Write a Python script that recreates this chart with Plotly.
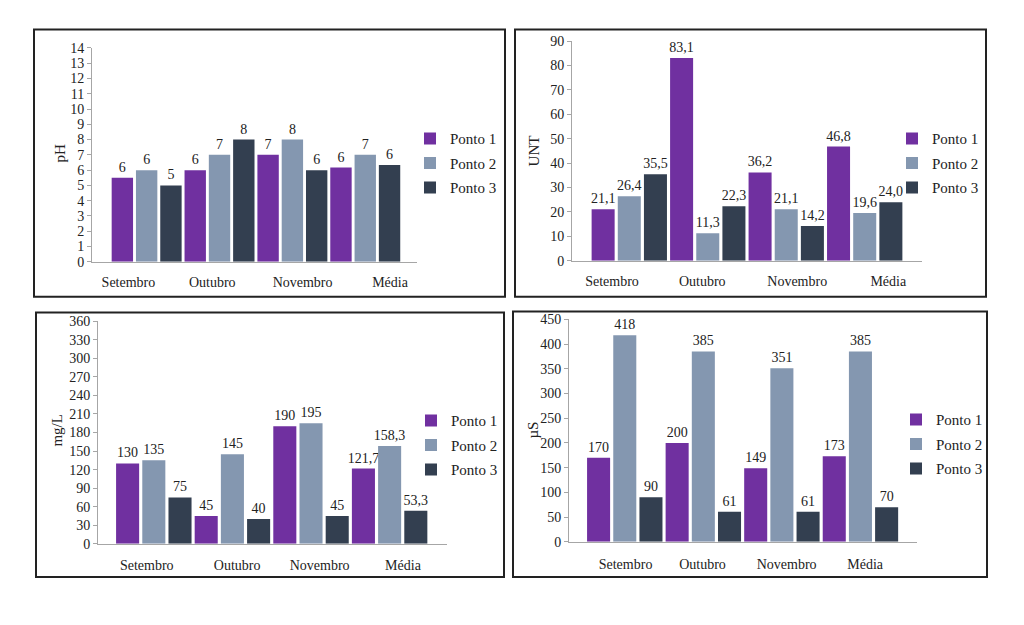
import plotly.graph_objects as go

# ---------------- data ----------------
months = ["Setembro", "Outubro", "Novembro", "Média"]
series = ["Ponto 1", "Ponto 2", "Ponto 3"]
colors = ["#7030A0", "#8497B0", "#333F50"]

ph_p1 = [5.5, 6, 7, 6.17]
ph_p2 = [6, 7, 8, 7]
ph_p3 = [5, 8, 6, 6.33]

unt_p1 = [21.1, 83.1, 36.2, 46.8]
unt_p2 = [26.4, 11.3, 21.1, 19.6]
unt_p3 = [35.5, 22.3, 14.2, 24.0]

mgl_p1 = [130, 45, 190, 121.7]
mgl_p2 = [135, 145, 195, 158.3]
mgl_p3 = [75, 40, 45, 53.3]

us_p1 = [170, 200, 149, 173]
us_p2 = [418, 385, 351, 385]
us_p3 = [90, 61, 61, 70]

# ---------------- helpers ----------------
W, H = 1024, 625
FONT = "Liberation Serif, Times New Roman, DejaVu Serif, serif"


def px(x):
    return x / W


def py(y):
    return 1 - y / H


def fmt(v, mode):
    if mode == "int":
        return f"{v:.0f}"
    if mode == "one":
        return f"{v:.1f}".replace(".", ",")
    if abs(v - round(v)) < 1e-9:
        return f"{int(round(v))}"
    return f"{v:.1f}".replace(".", ",")


panels = [
    dict(vals=[ph_p1, ph_p2, ph_p3], mode="int", title="pH",
         yrange=[0, 14], dtick=1, xrange=[-0.75, 3.71],
         ticks=[-0.25, 0.9, 2.14, 3.34], standoff=7,
         dom=(92, 417, 42, 261), leg=(410, 160), ttl=(60, 150),
         box=(34, 505, 23, 297)),
    dict(vals=[unt_p1, unt_p2, unt_p3], mode="one", title="UNT",
         yrange=[0, 90], dtick=10, xrange=[-0.73, 3.73],
         ticks=[-0.22, 0.93, 2.14, 3.30], standoff=7,
         dom=(572, 922, 35, 260), leg=(892, 160), ttl=(534, 148),
         box=(515, 986, 23, 297)),
    dict(vals=[mgl_p1, mgl_p2, mgl_p3], mode="mixed", title="mg/L",
         yrange=[0, 360], dtick=30, xrange=[-0.71, 3.73],
         ticks=[-0.09, 1.06, 2.11, 3.17], standoff=8,
         dom=(98, 447, 322, 550), leg=(411, 449), ttl=(57, 434),
         box=(36, 504, 313, 584)),
    dict(vals=[us_p1, us_p2, us_p3], mode="int", title="µS",
         yrange=[0, 450], dtick=50, xrange=[-0.71, 3.72],
         ticks=[0.01, 0.99, 2.06, 3.06], standoff=9,
         dom=(569, 917, 320, 548), leg=(896, 448), ttl=(533, 434),
         box=(513, 987, 312, 584)),
]

fig = go.Figure()
xidx = list(range(len(months)))

layout_extra = {}
shapes = []
annotations = []

for k, p in enumerate(panels):
    n = "" if k == 0 else str(k + 1)
    xa, ya = "x" + n, "y" + n
    legname = "legend" + n
    for i, s in enumerate(series):
        fig.add_trace(go.Bar(
            x=xidx, y=p["vals"][i], name=s,
            marker=dict(color=colors[i], line=dict(width=0)),
            text=[fmt(v, p["mode"]) for v in p["vals"][i]],
            textposition="outside", cliponaxis=False,
            constraintext="none",
            textfont=dict(family=FONT, size=14, color="#222222"),
            xaxis=xa, yaxis=ya, legend=legname,
            legendgroup=f"g{k}_{i}", showlegend=True,
        ))
    x0, x1, y0, y1 = p["dom"]
    layout_extra["xaxis" + n] = dict(
        domain=[px(x0), px(x1)], anchor=ya, range=p["xrange"],
        showline=True, linecolor="#A6A6A6", linewidth=1,
        showgrid=False, zeroline=False, ticks="",
        tickmode="array", tickvals=p["ticks"], ticktext=months,
        tickfont=dict(family=FONT, size=14, color="#222222"),
        ticklabelstandoff=p["standoff"], fixedrange=True,
    )
    layout_extra["yaxis" + n] = dict(
        domain=[py(y1), py(y0)], anchor=xa, range=p["yrange"],
        dtick=p["dtick"], tick0=0,
        showline=True, linecolor="#A6A6A6", linewidth=1,
        ticks="outside", ticklen=4, tickcolor="#A6A6A6",
        showgrid=False, zeroline=False,
        tickfont=dict(family=FONT, size=14, color="#222222"),
        fixedrange=True,
    )
    lx, lyc = p["leg"]
    layout_extra[legname] = dict(
        x=px(lx), y=py(lyc), xanchor="left", yanchor="middle",
        traceorder="grouped", tracegroupgap=2,
        font=dict(family=FONT, size=15, color="#222222"),
        bgcolor="rgba(0,0,0,0)", borderwidth=0, itemwidth=30,
    )
    bx0, bx1, by0, by1 = p["box"]
    shapes.append(dict(type="rect", xref="paper", yref="paper",
                       x0=px(bx0), x1=px(bx1), y0=py(by1), y1=py(by0),
                       line=dict(color="#222222", width=2),
                       fillcolor="rgba(0,0,0,0)", layer="below"))
    tx, ty = p["ttl"]
    annotations.append(dict(text=p["title"], xref="paper", yref="paper",
                            x=px(tx), y=py(ty), showarrow=False,
                            textangle=-90, xanchor="center", yanchor="middle",
                            font=dict(family=FONT, size=15, color="#222222")))

fig.update_layout(
    width=W, height=H,
    margin=dict(l=0, r=0, t=0, b=0),
    paper_bgcolor="white", plot_bgcolor="rgba(0,0,0,0)",
    barmode="group", bargap=0, bargroupgap=0.12,
    font=dict(family=FONT, size=14, color="#222222"),
    shapes=shapes, annotations=annotations,
    **layout_extra,
)

fig.write_html("out.html")
